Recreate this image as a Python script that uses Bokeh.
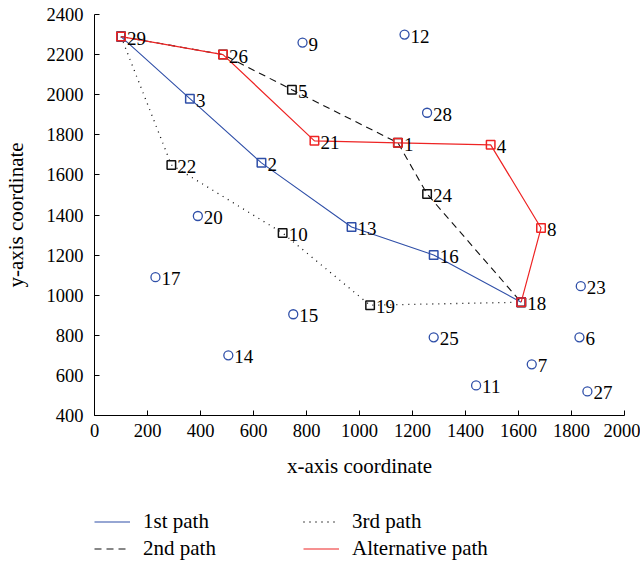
import math
import numpy as np
from bokeh.plotting import figure
from bokeh.layouts import column
from bokeh.models import Legend, LegendItem, ColumnDataSource, FixedTicker
from bokeh.core.properties import value
from bokeh.embed import file_html
from bokeh.resources import INLINE

# ---- data -------------------------------------------------------------
node_ids = list(range(1, 30))
node_x = [1145, 630, 360, 1495, 745, 1830, 1650, 1685, 785, 710,
          1440, 1170, 970, 505, 750, 1280, 230, 1610, 1040, 390,
          830, 290, 1835, 1255, 1280, 485, 1860, 1255, 100]
node_y = [1760, 1660, 1980, 1750, 2025, 790, 655, 1335, 2260, 1310,
          550, 2300, 1340, 700, 905, 1200, 1090, 965, 950, 1395,
          1770, 1650, 1045, 1505, 790, 2200, 520, 1910, 2290]

path_1st = [29, 3, 2, 13, 16, 18]
path_2nd = [29, 26, 5, 1, 24, 18]
path_3rd = [29, 22, 10, 19, 18]
path_alt = [29, 26, 21, 1, 4, 8, 18]
series_names = ["1st path", "2nd path", "3rd path", "Alternative path"]

x_ticks = list(range(0, 2001, 200))
y_ticks = list(range(400, 2401, 200))
x_title = "x-axis coordinate"
y_title = "y-axis coordinate"

# ---- styling ------------------------------------------------------------
FONT = "Liberation Serif"
TITLE_SIZE = "21px"
BLUE = "#2F4FA8"
RED = "#EE2424"
BLACK = "#111111"
STYLES = [
    dict(line_color=BLUE, line_width=1.1),
    dict(line_color=BLACK, line_width=1.1, line_dash="7 5"),
    dict(line_color=BLACK, line_width=1.3, line_dash="1 5"),
    dict(line_color=RED, line_width=1.2),
]

pos = {n: (x, y) for n, x, y in zip(node_ids, node_x, node_y)}


def coords(path):
    return [pos[n][0] for n in path], [pos[n][1] for n in path]


p = figure(frame_width=530, frame_height=401,
           x_range=(0, 2000), y_range=(400, 2400),
           output_backend="svg", toolbar_location=None,
           min_border_left=94, min_border_right=16, min_border_top=14,
           min_border_bottom=80)
p.outline_line_color = None
p.grid.visible = False
p.background_fill_color = "white"
p.border_fill_color = "white"

for ax in (p.xaxis, p.yaxis):
    ax.major_tick_in = 5
    ax.major_tick_out = 0
    ax.minor_tick_line_color = None
    ax.axis_line_color = "black"
    ax.major_tick_line_color = "black"
    ax.major_label_text_font = FONT
    ax.major_label_text_font_size = "18.5px"
    ax.major_label_text_color = "black"
    ax.axis_label_text_font = FONT
    ax.axis_label_text_font_size = TITLE_SIZE
    ax.axis_label_text_font_style = "normal"
    ax.axis_label_text_color = "black"

p.xaxis.major_label_standoff = 8
p.yaxis.major_label_standoff = 11
p.xaxis.ticker = FixedTicker(ticks=x_ticks)
p.yaxis.ticker = FixedTicker(ticks=y_ticks)
p.xaxis.axis_label = x_title
p.yaxis.axis_label = y_title
p.xaxis.axis_label_standoff = 14
p.yaxis.axis_label_standoff = 16

# paths (drawn 3rd, 2nd, 1st, alternative)
paths = [path_1st, path_2nd, path_3rd, path_alt]
for i in (2, 1, 0, 3):
    xs, ys = coords(paths[i])
    p.line(xs, ys, **STYLES[i])

# unused nodes: open circles
used = set(path_1st) | set(path_2nd) | set(path_3rd) | set(path_alt)
free = [n for n in node_ids if n not in used]
p.scatter([pos[n][0] for n in free], [pos[n][1] for n in free],
          marker="circle", size=9, fill_color=None,
          line_color=BLUE, line_width=1.3)

# path nodes: squares
for path, col in ((path_3rd, BLACK), (path_2nd, BLACK),
                  (path_1st, BLUE), (path_alt, RED)):
    xs, ys = coords(path)
    p.scatter(xs, ys, marker="square", size=8.5, fill_color=None,
              line_color=col, line_width=1.5)

# node labels
src = ColumnDataSource(dict(x=node_x, y=node_y, t=[str(n) for n in node_ids]))
p.text("x", "y", text="t", source=src, x_offset=6, y_offset=1.5,
       text_baseline="middle", text_align="left",
       text_font=value(FONT), text_font_size="19px", text_color="black")

# ---- legend strip below the chart ---------------------------------------
lg = figure(frame_width=530, frame_height=54, x_range=(0, 1), y_range=(0, 1),
            output_backend="svg", toolbar_location=None,
            min_border_left=94, min_border_right=16, min_border_top=14,
            min_border_bottom=0)
lg.axis.visible = False
lg.grid.visible = False
lg.outline_line_color = None
lg.background_fill_color = "white"
lg.border_fill_color = "white"

items = []
for name, st in zip(series_names, STYLES):
    # legend-only renderer: a single missing point, nothing is plotted
    r = lg.line(x=np.array([np.nan]), y=np.array([np.nan]), **st)
    items.append(LegendItem(label=name, renderers=[r]))

legend = Legend(items=items, orientation="vertical", nrows=2,
                location="top_left",
                glyph_width=36, glyph_height=25, label_height=25,
                label_standoff=13, label_width=158,
                spacing=2, padding=0, margin=0, border_line_color=None,
                background_fill_alpha=0, label_text_font=FONT,
                label_text_font_size=TITLE_SIZE, label_text_color="black")
lg.add_layout(legend, "center")

layout = column(p, lg, spacing=0)
open("out.html", "w").write(file_html(layout, INLINE))
